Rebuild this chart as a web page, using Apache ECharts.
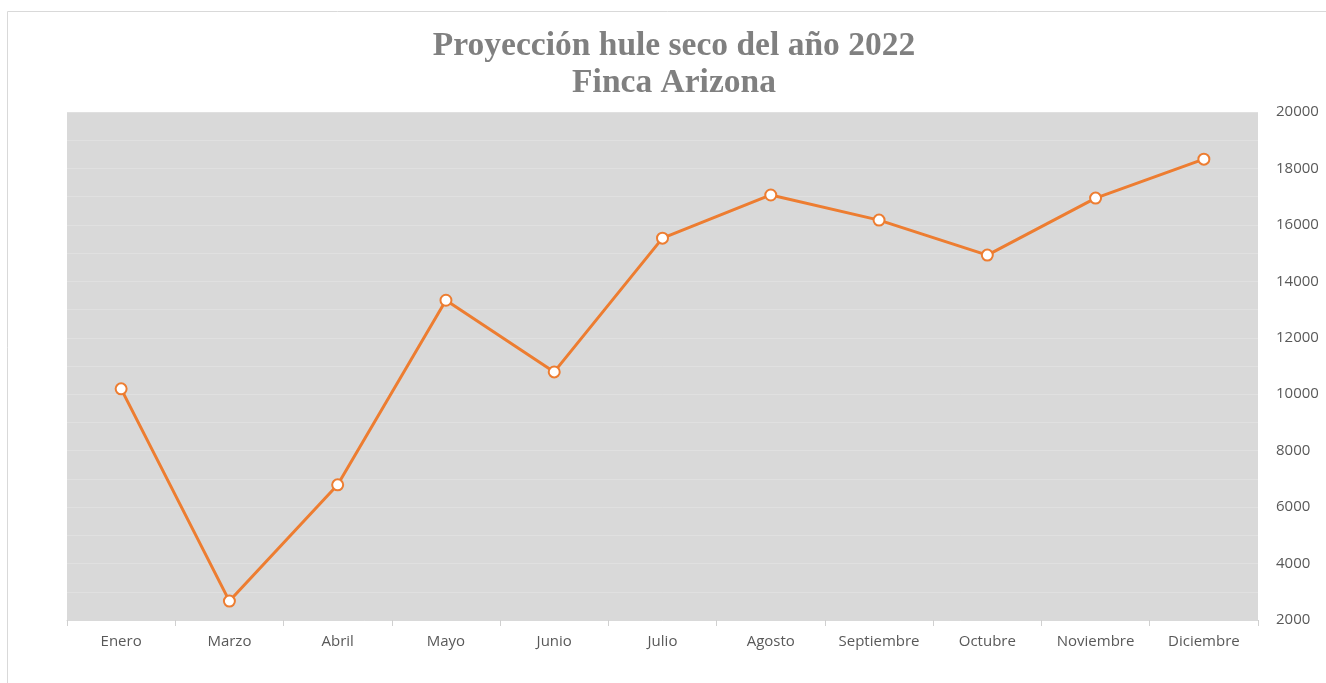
<!DOCTYPE html>
<html>
<head>
<meta charset="utf-8">
<script src="https://cdn.jsdelivr.net/npm/echarts@6/dist/echarts.min.js"></script>
<style>
  html, body { margin: 0; padding: 0; background: #fff; }
  #chart { width: 1326px; height: 683px; }
</style>
</head>
<body>
<div id="chart"></div>
<script>
const months = ["Enero", "Marzo", "Abril", "Mayo", "Junio", "Julio", "Agosto", "Septiembre", "Octubre", "Noviembre", "Diciembre"];
const huleSeco = [10190, 2670, 6790, 13330, 10790, 15530, 17060, 16170, 14930, 16950, 18330];
const yMin = 2000;
const yMax = 20000;
const yStep = 2000;

const chart = echarts.init(document.getElementById('chart'));

const option = {
    animation: false,
    title: {
        text: 'Proyección hule seco del año 2022\nFinca Arizona',
        left: 669,
        top: 23,
        textAlign: 'center',
        textStyle: {
            fontFamily: 'Liberation Serif',
            fontWeight: 'bold',
            fontSize: 33.5,
            lineHeight: 37,
            color: '#808080'
        }
    },
    graphic: [{
        type: 'rect',
        shape: { x: 7.5, y: 11.5, width: 1330, height: 690 },
        style: { fill: 'none', stroke: '#d9d9d9', lineWidth: 1 },
        silent: true
    }],
    grid: {
        left: 67,
        right: 68,
        top: 112,
        bottom: 63,
        show: true,
        backgroundColor: '#d9d9d9',
        borderWidth: 0
    },
    xAxis: {
        type: 'category',
        data: months,
        boundaryGap: true,
        axisLine: { show: true, lineStyle: { color: '#d9d9d9', width: 1 } },
        axisTick: { show: true, length: 6, lineStyle: { color: '#d0d0d0' } },
        axisLabel: {
            margin: 14,
            fontFamily: 'Open Sans',
            fontSize: 15,
            color: '#595959'
        }
    },
    yAxis: {
        type: 'value',
        position: 'right',
        min: yMin,
        max: yMax,
        interval: yStep,
        axisLine: { show: false },
        axisTick: { show: false },
        axisLabel: {
            margin: 18,
            fontFamily: 'Open Sans',
            fontSize: 15,
            color: '#595959',
            formatter: (value) => String(value)
        },
        splitLine: { show: true, lineStyle: { color: '#e0e0e0', width: 1 } },
        minorTick: { show: false, splitNumber: 2 },
        minorSplitLine: { show: true, lineStyle: { color: '#e0e0e0', width: 1 } }
    },
    series: [{
        name: 'Hule seco',
        type: 'line',
        data: huleSeco,
        symbol: 'circle',
        symbolSize: 11,
        lineStyle: { color: '#ed7d31', width: 3 },
        itemStyle: { color: '#ffffff', borderColor: '#ed7d31', borderWidth: 2 }
    }]
};

chart.setOption(option);
</script>
</body>
</html>
